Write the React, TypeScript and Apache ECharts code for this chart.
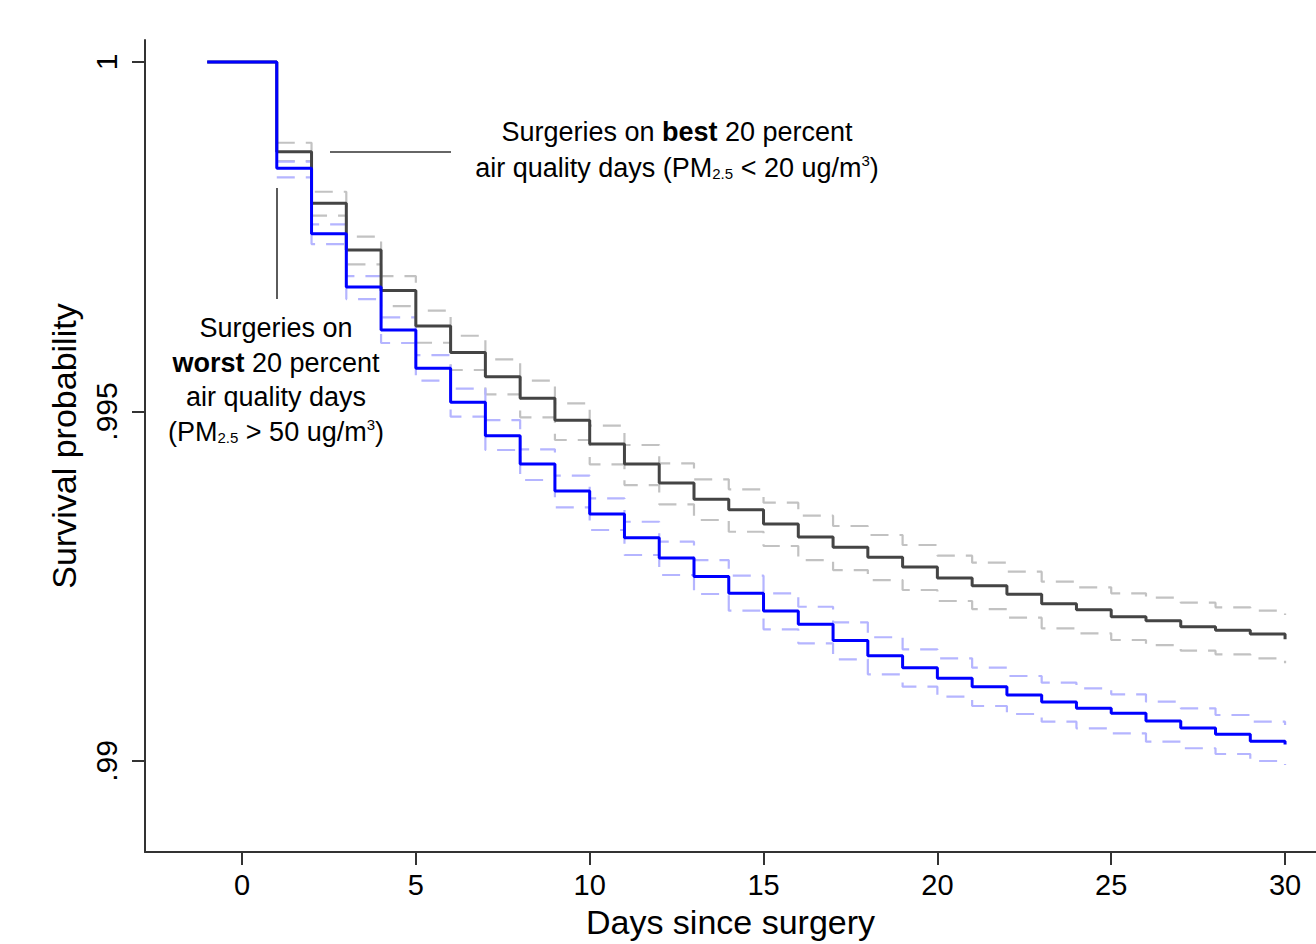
import React, { useEffect, useRef } from "react";
import * as echarts from "echarts";

// Kaplan-Meier style survival estimates (values hold from day t to day t+1)
const days = [-1, 0, 1, 2, 3, 4, 5, 6, 7, 8, 9, 10, 11, 12, 13, 14, 15, 16, 17, 18, 19, 20, 21, 22, 23, 24, 25, 26, 27, 28, 29, 30];
const bestSurv = [1, 1, 0.998717, 0.997979, 0.99731, 0.996731, 0.996223, 0.995844, 0.995498, 0.99519, 0.994874, 0.994535, 0.994249, 0.993977, 0.993744, 0.993595, 0.993391, 0.993205, 0.993057, 0.992914, 0.992775, 0.992618, 0.992508, 0.992385, 0.992249, 0.992165, 0.992064, 0.992007, 0.991921, 0.99187, 0.991817, 0.991741];
const worstSurv = [1, 1, 0.998479, 0.997544, 0.996781, 0.996166, 0.995618, 0.995133, 0.994654, 0.994249, 0.993863, 0.993534, 0.993195, 0.992904, 0.992639, 0.992399, 0.992146, 0.991956, 0.991724, 0.991506, 0.991335, 0.991183, 0.991063, 0.990944, 0.990844, 0.990754, 0.990682, 0.990572, 0.990472, 0.990382, 0.990282, 0.990236];

// 95% confidence bands, days 1..30
const ciDays = [1, 2, 3, 4, 5, 6, 7, 8, 9, 10, 11, 12, 13, 14, 15, 16, 17, 18, 19, 20, 21, 22, 23, 24, 25, 26, 27, 28, 29, 30];
const bestUpper = [0.998845, 0.998144, 0.997501, 0.996938, 0.996442, 0.996084, 0.995747, 0.995441, 0.995117, 0.994797, 0.994521, 0.994259, 0.99403, 0.993887, 0.993695, 0.993509, 0.993362, 0.993233, 0.99309, 0.992937, 0.992837, 0.992708, 0.992565, 0.992485, 0.992399, 0.992336, 0.992265, 0.992199, 0.99215, 0.992089];
const bestLower = [0.998584, 0.997801, 0.997106, 0.996509, 0.995984, 0.995594, 0.995246, 0.994917, 0.994592, 0.994245, 0.993948, 0.993672, 0.993448, 0.99328, 0.993076, 0.992875, 0.992732, 0.992589, 0.992446, 0.992289, 0.992174, 0.99205, 0.991898, 0.991827, 0.991731, 0.991659, 0.991578, 0.991526, 0.991469, 0.991398];
const worstUpper = [0.998574, 0.997678, 0.996938, 0.996348, 0.995808, 0.995326, 0.994878, 0.994459, 0.994082, 0.993758, 0.993423, 0.993137, 0.992875, 0.992651, 0.992399, 0.992207, 0.991984, 0.99177, 0.991598, 0.991469, 0.991335, 0.991216, 0.99112, 0.99104, 0.990954, 0.990848, 0.990754, 0.990658, 0.990562, 0.990515];
const worstLower = [0.99835, 0.997396, 0.996609, 0.99598, 0.995441, 0.994926, 0.994449, 0.99402, 0.993629, 0.993305, 0.992947, 0.992661, 0.992389, 0.99215, 0.991884, 0.991684, 0.991455, 0.99124, 0.991063, 0.99092, 0.990787, 0.990672, 0.990562, 0.990468, 0.990396, 0.990276, 0.990182, 0.9901, 0.99, 0.989943];

const xTicks = [0, 5, 10, 15, 20, 25, 30];
const yTicks = [0.99, 0.995, 1];
const yTickLabels = [".99", ".995", "1"];

const FONT = "Liberation Sans, Arial, Helvetica, sans-serif";

function pairs(xs: number[], ys: number[]) {
  return xs.map((x, i) => [x, ys[i]]);
}

export default function App() {
  const ref = useRef<HTMLDivElement>(null);

  useEffect(() => {
    if (!ref.current) return;
    const chart = echarts.init(ref.current, undefined, { renderer: "svg" });

    const annSize = 27;
    const rich = {
      b: { fontWeight: "bold", fontSize: annSize, fontFamily: FONT, fill: "#000" },
      sub: { fontSize: 15, fontFamily: FONT, lineHeight: 15, padding: [10, 0, 0, 0], fill: "#000" },
      sup: { fontSize: 15, fontFamily: FONT, lineHeight: 15, padding: [0, 0, 16, 0], fill: "#000" },
    };
    const txt = (x: number, y: number, text: string) => ({
      type: "text",
      x,
      y,
      silent: true,
      style: {
        text,
        fontSize: annSize,
        fontFamily: FONT,
        fill: "#000",
        align: "center",
        verticalAlign: "middle",
        lineHeight: 31,
        rich,
      },
    });

    const dashed = (data: number[][], color: string) => ({
      type: "line",
      data,
      step: "end",
      symbol: "none",
      silent: true,
      lineStyle: { color, width: 2.2, type: [18, 11] },
      z: 1,
    });

    chart.setOption({
      animation: false,
      backgroundColor: "#ffffff",
      grid: { left: 145, right: 0, top: 40, bottom: 92, containLabel: false },
      xAxis: {
        type: "value",
        min: -2.79,
        max: 30.89,
        name: "Days since surgery",
        nameLocation: "middle",
        nameGap: 53,
        nameTextStyle: { fontSize: 34, color: "#000", fontFamily: FONT },
        axisLine: { show: true, onZero: false, lineStyle: { color: "#333", width: 2 } },
        axisTick: { show: true, length: 13, customValues: xTicks, lineStyle: { color: "#333", width: 2 } },
        axisLabel: { customValues: xTicks, fontSize: 29, color: "#000", fontFamily: FONT, margin: 18 },
        splitLine: { show: false },
      },
      yAxis: {
        type: "value",
        min: 0.988698,
        max: 1.000315,
        name: "Survival probability",
        nameLocation: "middle",
        nameGap: 64,
        nameTextStyle: { fontSize: 34, color: "#000", fontFamily: FONT },
        axisLine: { show: true, onZero: false, lineStyle: { color: "#333", width: 2 } },
        axisTick: { show: true, length: 13, customValues: yTicks, lineStyle: { color: "#333", width: 2 } },
        axisLabel: {
          customValues: yTicks,
          rotate: 90,
          fontSize: 30,
          color: "#000",
          fontFamily: FONT,
          margin: 24,
          formatter: (v: number) => {
            const i = yTicks.findIndex((t) => Math.abs(t - v) < 1e-9);
            return i >= 0 ? yTickLabels[i] : "";
          },
        },
        splitLine: { show: false },
      },
      series: [
        dashed(pairs(ciDays, bestUpper), "#c2c2c2"),
        dashed(pairs(ciDays, bestLower), "#c2c2c2"),
        dashed(pairs(ciDays, worstUpper), "#b5b5ff"),
        dashed(pairs(ciDays, worstLower), "#b5b5ff"),
        {
          type: "line",
          name: "best",
          data: pairs(days, bestSurv),
          step: "end",
          symbol: "none",
          silent: true,
          lineStyle: { color: "#444444", width: 3 },
          z: 3,
        },
        {
          type: "line",
          name: "worst",
          data: pairs(days, worstSurv),
          step: "end",
          symbol: "none",
          silent: true,
          lineStyle: { color: "#0000ff", width: 3 },
          z: 4,
        },
      ],
      graphic: [
        { type: "line", silent: true, shape: { x1: 330, y1: 152, x2: 451, y2: 152 }, style: { stroke: "#333", lineWidth: 1.6 } },
        { type: "line", silent: true, shape: { x1: 277, y1: 188, x2: 277, y2: 299 }, style: { stroke: "#333", lineWidth: 1.6 } },
        txt(677, 132, "Surgeries on {b|best} 20 percent"),
        txt(677, 168, "air quality days (PM{sub|2.5} < 20 ug/m{sup|3})"),
        txt(276, 328, "Surgeries on"),
        txt(276, 363, "{b|worst} 20 percent"),
        txt(276, 397, "air quality days"),
        txt(276, 432, "(PM{sub|2.5} > 50 ug/m{sup|3})"),
      ],
    });

    return () => chart.dispose();
  }, []);

  return (
    <div
      ref={ref}
      style={{ position: "absolute", left: 0, top: 0, width: 1316, height: 944, background: "#fff" }}
    />
  );
}
